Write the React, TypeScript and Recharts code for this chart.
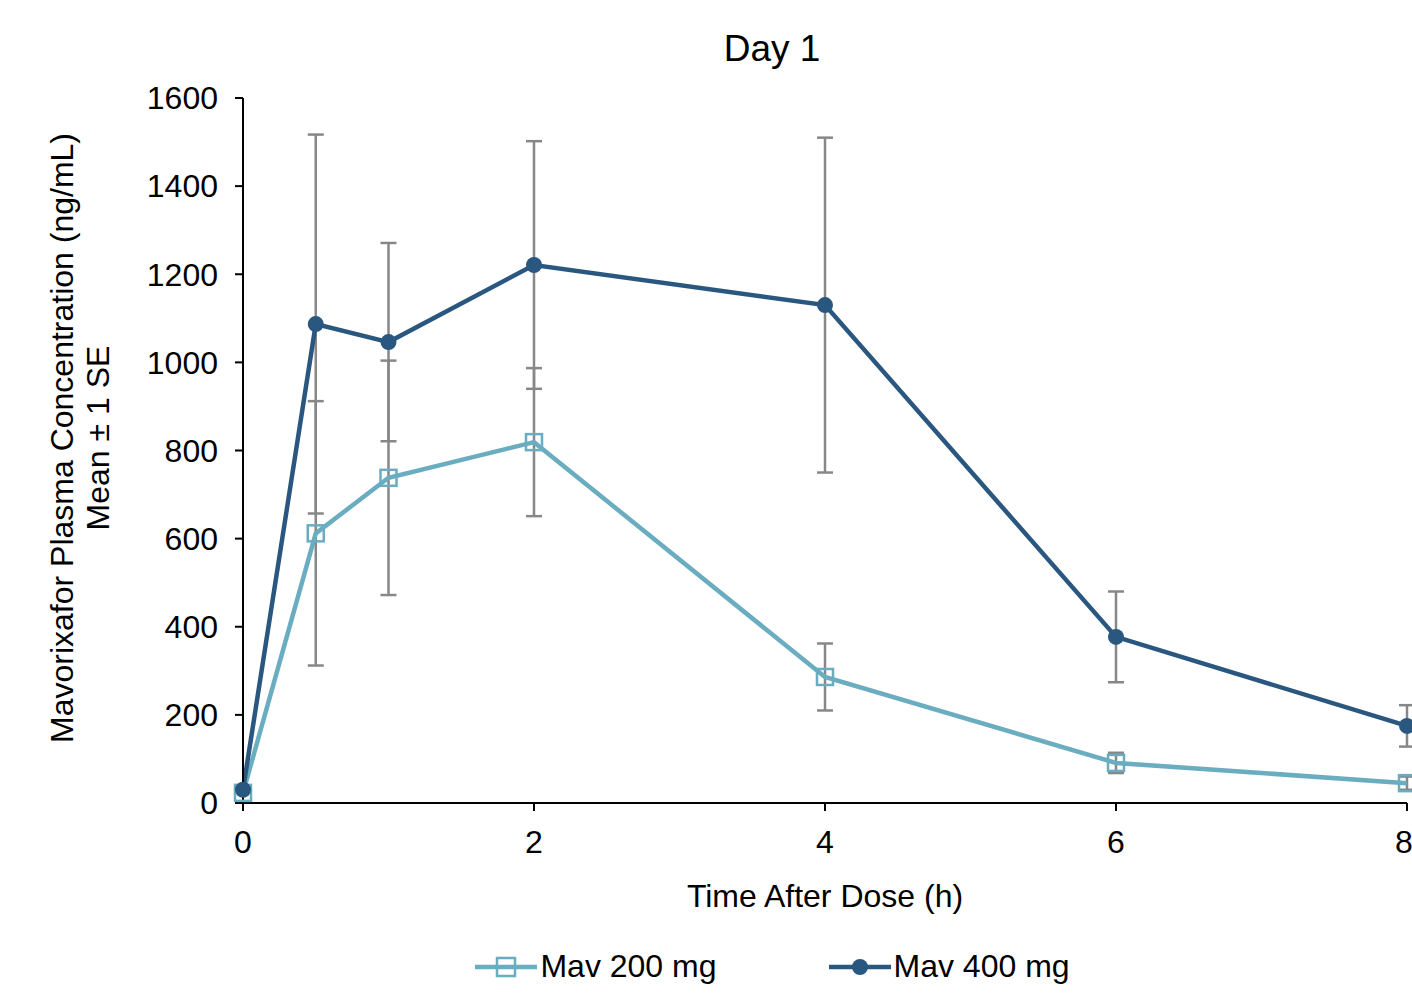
import {
  CartesianGrid,
  ErrorBar,
  Legend,
  Line,
  LineChart,
  XAxis,
  YAxis,
} from "recharts";

// time points (h) and mean +/- SE
const timePoints = [0, 0.5, 1, 2, 4, 6, 8];
const mav200Mean = [23, 612, 738, 819, 286, 91, 45];
const mav200Se = [null, 300, 266, 168, 76, 23, 15];
const mav400Mean = [30, 1087, 1046, 1221, 1130, 377, 175];
const mav400Se = [null, 430, 225, 281, 380, 103, 47];

const xTicks = [0, 2, 4, 6, 8];
const yTicks = [0, 200, 400, 600, 800, 1000, 1200, 1400, 1600];

const C200 = "#6aacc0";
const C400 = "#2a5780";
const ERR = "#878787";
const FONT = "'Liberation Sans', Arial, sans-serif";

const rows = timePoints.map((t, i) => ({
  t,
  mav200: mav200Mean[i],
  se200: mav200Se[i],
  mav400: mav400Mean[i],
  se400: mav400Se[i],
}));

function SquareDot(props: any) {
  const { cx, cy, index } = props;
  if (cx == null || cy == null) return null;
  return (
    <rect
      key={`sq-${index}`}
      x={cx - 8}
      y={cy - 8}
      width={16}
      height={16}
      fill="none"
      stroke={C200}
      strokeWidth={2.5}
    />
  );
}

function LegendContent() {
  const items = [
    { label: "Mav 200 mg", color: C200, square: true },
    { label: "Mav 400 mg", color: C400, square: false },
  ];
  return (
    <div
      style={{
        display: "flex",
        justifyContent: "center",
        gap: 112,
        paddingLeft: 138,
        paddingTop: 24,
        fontFamily: FONT,
        fontSize: 32,
        color: "#000",
      }}
    >
      {items.map((it) => (
        <div key={it.label} style={{ display: "flex", alignItems: "center" }}>
          <svg width={62} height={24} style={{ marginRight: 3 }}>
            <line x1={0} y1={12} x2={62} y2={12} stroke={it.color} strokeWidth={4.5} />
            {it.square ? (
              <rect x={22} y={3} width={18} height={18} fill="none" stroke={it.color} strokeWidth={2.5} />
            ) : (
              <circle cx={31} cy={12} r={8} fill={it.color} />
            )}
          </svg>
          <span>{it.label}</span>
        </div>
      ))}
    </div>
  );
}

export default function App() {
  return (
    <div style={{ position: "absolute", left: 0, top: 0, background: "#fff" }}>
      <LineChart
        width={1412}
        height={994}
        data={rows}
        margin={{ top: 98, right: 5, bottom: 0, left: 0 }}
        style={{ fontFamily: FONT }}
      >
        <CartesianGrid stroke="none" />
        <XAxis
          dataKey="t"
          type="number"
          domain={[0, 8]}
          ticks={xTicks}
          height={121}
          tickSize={8}
          tickMargin={19}
          axisLine={{ stroke: "#000", strokeWidth: 2 }}
          tickLine={{ stroke: "#000", strokeWidth: 2 }}
          tick={{ fontSize: 32, fill: "#000" }}
        />
        <YAxis
          type="number"
          domain={[0, 1600]}
          ticks={yTicks}
          width={243}
          tickSize={8}
          tickMargin={17}
          axisLine={{ stroke: "#000", strokeWidth: 2 }}
          tickLine={{ stroke: "#000", strokeWidth: 2 }}
          tick={{ fontSize: 32, fill: "#000" }}
        />
        <Legend verticalAlign="bottom" height={70} content={<LegendContent />} />
        <Line
          dataKey="mav200"
          name="Mav 200 mg"
          stroke={C200}
          strokeWidth={4.5}
          dot={<SquareDot />}
          activeDot={false}
          isAnimationActive={false}
        >
          <ErrorBar dataKey="se200" direction="y" width={8} stroke={ERR} strokeWidth={2.5} />
        </Line>
        <Line
          dataKey="mav400"
          name="Mav 400 mg"
          stroke={C400}
          strokeWidth={4.5}
          dot={{ r: 8, fill: C400, stroke: "none" }}
          activeDot={false}
          isAnimationActive={false}
        >
          <ErrorBar dataKey="se400" direction="y" width={8} stroke={ERR} strokeWidth={2.5} />
        </Line>
        <text x={772} y={48} textAnchor="middle" dominantBaseline="central" fontSize={37} fill="#000">
          Day 1
        </text>
        <text x={825} y={896} textAnchor="middle" dominantBaseline="central" fontSize={32} fill="#000">
          Time After Dose (h)
        </text>
        <text
          x={62}
          y={438}
          transform="rotate(-90 62 438)"
          textAnchor="middle"
          dominantBaseline="central"
          fontSize={32}
          fill="#000"
        >
          Mavorixafor Plasma Concentration (ng/mL)
        </text>
        <text
          x={98}
          y={438}
          transform="rotate(-90 98 438)"
          textAnchor="middle"
          dominantBaseline="central"
          fontSize={32}
          fill="#000"
        >
          Mean ± 1 SE
        </text>
      </LineChart>
    </div>
  );
}
